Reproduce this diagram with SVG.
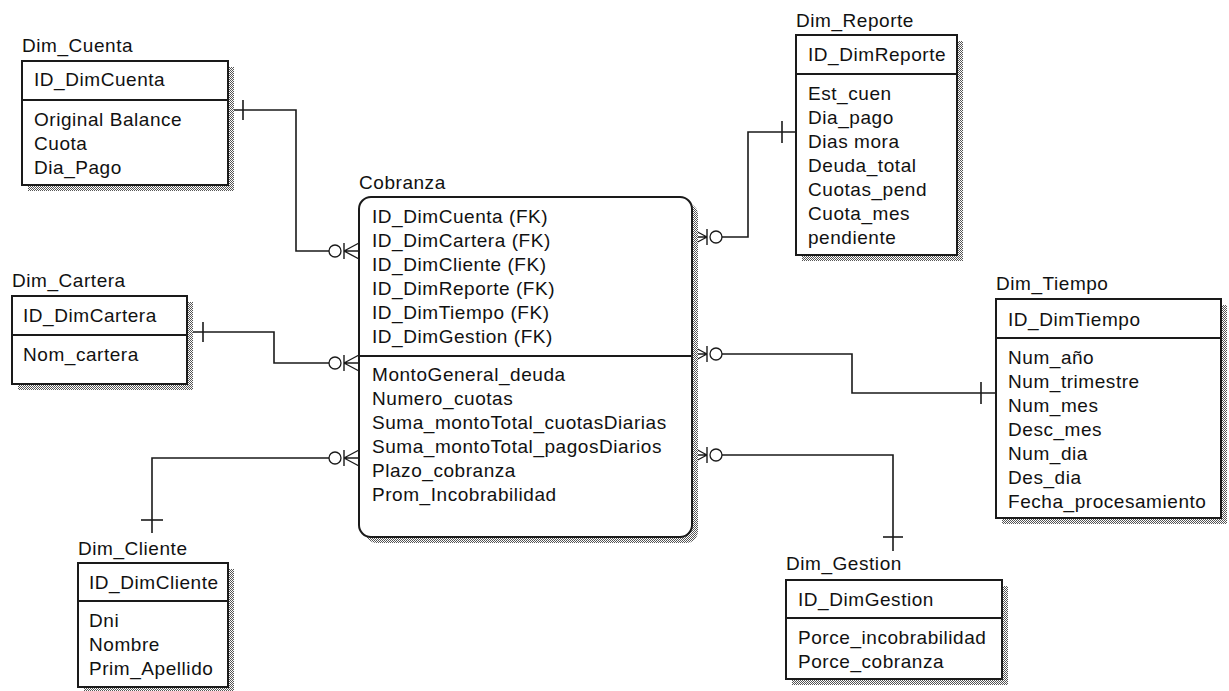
<svg xmlns="http://www.w3.org/2000/svg" xmlns:xlink="http://www.w3.org/1999/xlink" width="1229" height="691" viewBox="0 0 1229 691">
<defs>
<style>
text{font-family:"Liberation Sans",Arial,sans-serif;font-size:19px;letter-spacing:0.55px;fill:#111}
.box{fill:#fff;stroke:#1a1a1a;stroke-width:2}
.div{stroke:#1a1a1a;stroke-width:2}
.shadow{fill:url(#dots)}
.conn path{fill:none;stroke:#1a1a1a;stroke-width:1.6}
.crow path{fill:none;stroke:#1a1a1a;stroke-width:1.4}
.crow circle{fill:#fff;stroke:#1a1a1a;stroke-width:1.3}
</style>
<pattern id="dots" width="2" height="2" patternUnits="userSpaceOnUse">
<rect width="2" height="2" fill="#fff"/>
<rect width="1" height="1" fill="#555"/>
<rect x="1" y="1" width="1" height="1" fill="#555"/>
</pattern>
<g id="crowL" class="crow">
<path d="M-15,0 L0,-8 M-15,0 L0,0 M-15,0 L0,8 M-15,-8 V8"/>
<circle cx="-24" cy="0" r="6"/>
</g>
</defs>
<rect width="1229" height="691" fill="#fff"/>

<g id="connectors" class="conn">
<path d="M228,110 H296 V251 H330"/>
<path d="M243,100 V120"/>
<path d="M187,332 H274 V363 H330"/>
<path d="M203,322 V342"/>
<path d="M152,533 V458 H330"/>
<path d="M141,520 H163"/>
<path d="M796,132 H748 V237 H721"/>
<path d="M782,121 V143"/>
<path d="M996,393 H852 V354 H721"/>
<path d="M981,382 V404"/>
<path d="M893,551 V455 H721"/>
<path d="M883,537 H903"/>
<use xlink:href="#crowL" transform="translate(359,251)"/>
<use xlink:href="#crowL" transform="translate(359,363)"/>
<use xlink:href="#crowL" transform="translate(359,458)"/>
<use xlink:href="#crowL" transform="translate(692,237) scale(-1,1)"/>
<use xlink:href="#crowL" transform="translate(692,354) scale(-1,1)"/>
<use xlink:href="#crowL" transform="translate(692,455) scale(-1,1)"/>
</g>

<g id="Dim_Cuenta">
<text x="22" y="52">Dim_Cuenta</text>
<rect class="shadow" x="28" y="67" width="206" height="124"/>
<rect class="box" x="22" y="61" width="206" height="124"/>
<line class="div" x1="22" y1="100" x2="228" y2="100"/>
<text x="34" y="86">ID_DimCuenta</text>
<text x="34" y="126">Original Balance</text>
<text x="34" y="150">Cuota</text>
<text x="34" y="174">Dia_Pago</text>
</g>

<g id="Dim_Cartera">
<text x="12" y="287">Dim_Cartera</text>
<rect class="shadow" x="18" y="302" width="175" height="88"/>
<rect class="box" x="12" y="296" width="175" height="88"/>
<line class="div" x1="12" y1="335" x2="187" y2="335"/>
<text x="23" y="322">ID_DimCartera</text>
<text x="23" y="361">Nom_cartera</text>
</g>

<g id="Dim_Cliente">
<text x="78" y="555">Dim_Cliente</text>
<rect class="shadow" x="84" y="569" width="150" height="124"/>
<rect class="box" x="78" y="563" width="150" height="124"/>
<line class="div" x1="78" y1="601" x2="228" y2="601"/>
<text x="89" y="589">ID_DimCliente</text>
<text x="89" y="627">Dni</text>
<text x="89" y="651">Nombre</text>
<text x="89" y="675">Prim_Apellido</text>
</g>

<g id="Cobranza">
<text x="359" y="189">Cobranza</text>
<rect class="shadow" x="365" y="203" width="333" height="340" rx="12"/>
<rect class="box" x="359" y="197" width="333" height="340" rx="12"/>
<line class="div" x1="359" y1="356" x2="692" y2="356"/>
<text x="372" y="223">ID_DimCuenta (FK)</text>
<text x="372" y="247">ID_DimCartera (FK)</text>
<text x="372" y="271">ID_DimCliente (FK)</text>
<text x="372" y="295">ID_DimReporte (FK)</text>
<text x="372" y="319">ID_DimTiempo (FK)</text>
<text x="372" y="343">ID_DimGestion (FK)</text>
<text x="372" y="381">MontoGeneral_deuda</text>
<text x="372" y="405">Numero_cuotas</text>
<text x="372" y="429">Suma_montoTotal_cuotasDiarias</text>
<text x="372" y="453">Suma_montoTotal_pagosDiarios</text>
<text x="372" y="477">Plazo_cobranza</text>
<text x="372" y="501">Prom_Incobrabilidad</text>
</g>

<g id="Dim_Reporte">
<text x="796" y="27">Dim_Reporte</text>
<rect class="shadow" x="802" y="41" width="161" height="220"/>
<rect class="box" x="796" y="35" width="161" height="220"/>
<line class="div" x1="796" y1="74" x2="957" y2="74"/>
<text x="808" y="61">ID_DimReporte</text>
<text x="808" y="100">Est_cuen</text>
<text x="808" y="124">Dia_pago</text>
<text x="808" y="148">Dias mora</text>
<text x="808" y="172">Deuda_total</text>
<text x="808" y="196">Cuotas_pend</text>
<text x="808" y="220">Cuota_mes</text>
<text x="808" y="244">pendiente</text>
</g>

<g id="Dim_Tiempo">
<text x="996" y="290">Dim_Tiempo</text>
<rect class="shadow" x="1002" y="305" width="225" height="219"/>
<rect class="box" x="996" y="299" width="225" height="219"/>
<line class="div" x1="996" y1="338" x2="1221" y2="338"/>
<text x="1008" y="326">ID_DimTiempo</text>
<text x="1008" y="364">Num_año</text>
<text x="1008" y="388">Num_trimestre</text>
<text x="1008" y="412">Num_mes</text>
<text x="1008" y="436">Desc_mes</text>
<text x="1008" y="460">Num_dia</text>
<text x="1008" y="484">Des_dia</text>
<text x="1008" y="508">Fecha_procesamiento</text>
</g>

<g id="Dim_Gestion">
<text x="786" y="570">Dim_Gestion</text>
<rect class="shadow" x="792" y="586" width="216" height="99"/>
<rect class="box" x="786" y="580" width="216" height="99"/>
<line class="div" x1="786" y1="618" x2="1002" y2="618"/>
<text x="798" y="606">ID_DimGestion</text>
<text x="798" y="644">Porce_incobrabilidad</text>
<text x="798" y="668">Porce_cobranza</text>
</g>
</svg>
